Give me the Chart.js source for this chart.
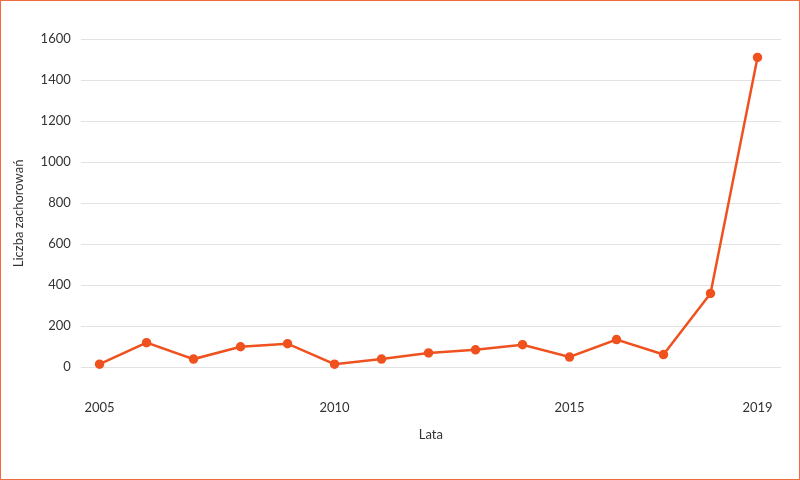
<!DOCTYPE html>
<html><head><meta charset="utf-8">
<script src="https://cdn.jsdelivr.net/npm/chart.js@4"></script>
<style>
html,body{margin:0;padding:0;background:#fff;}
#wrap{position:absolute;left:0;top:0;width:798px;height:478px;border:1px solid #f26a3d;}
</style></head><body>
<div id="wrap"><canvas id="c" width="798" height="478"></canvas></div>
<script>
const years = [2005,2006,2007,2008,2009,2010,2011,2012,2013,2014,2015,2016,2017,2018,2019];
const cases = [15,120,40,100,115,15,40,70,85,110,50,135,62,360,1510];
const xTicks = [2005,2010,2015,2019];
const yTicks = [0,200,400,600,800,1000,1200,1400,1600];
const color = '#f0521f';
const font = { family: 'Lato, "Noto Sans", sans-serif', size: 13 };

new Chart(document.getElementById('c'), {
  type: 'line',
  data: { datasets: [{
    data: years.map((y, i) => ({ x: y, y: cases[i] })),
    borderColor: color, backgroundColor: color, borderWidth: 2.5,
    pointRadius: 3.5, tension: 0
  }]},
  options: {
    responsive: false, animation: false,
    layout: { padding: { top: 38, right: 18, bottom: 32, left: 6 } },
    plugins: { legend: { display: false }, tooltip: { enabled: false } },
    scales: {
      x: {
        type: 'linear', min: 2004.6, max: 2019.5,
        afterBuildTicks: a => { a.ticks = xTicks.map(v => ({ value: v })); },
        grid: { display: false }, border: { display: false },
        ticks: { color: '#333', font, callback: v => String(v), padding: 4 },
        title: { display: true, text: 'Lata', color: '#333', font, padding: { top: 8 } }
      },
      y: {
        min: -100, max: 1600,
        afterBuildTicks: a => { a.ticks = yTicks.map(v => ({ value: v })); },
        grid: { color: '#e2e2e2', drawTicks: false }, border: { display: false },
        ticks: { color: '#333', font, padding: 10, callback: v => String(v) },
        title: { display: true, text: 'Liczba zachorowań', color: '#333', font }
      }
    }
  }
});
</script></body></html>
